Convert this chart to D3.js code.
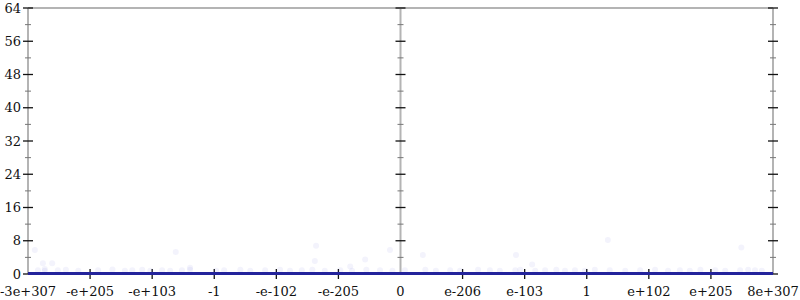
<!DOCTYPE html>
<html><head><meta charset="utf-8">
<script src="https://cdn.jsdelivr.net/npm/d3@7"></script>
<style>body{margin:0;background:#fff}svg{display:block}</style>
</head><body>
<script>
// x tick labels along the transformed (sign-log) float axis, evenly spaced
const xTickLabels = ["-3e+307","-e+205","-e+103","-1","-e-102","-e-205","0","e-206","e-103","1","e+102","e+205","8e+307"];
const yTicks = [0,8,16,24,32,40,48,56,64];
const yMinor = [4,12,20,28,36,44,52,60];
// scattered faint sample points: position in tick units, count
const dotX = [0.11,0.24,0.39,0.27,2.38,2.61,4.64,4.62,5.43,5.83,5.19,6.36,7.86,8.12,9.34,11.49];
const dotY = [5.8,2.6,2.6,1.2,5.3,1.5,6.8,3.1,3.5,5.8,1.8,4.6,4.6,2.3,8.2,6.4];
const baseX = [0.16,0.27,0.48,0.61,0.81,1.13,1.36,1.56,1.68,1.84,1.97,2.16,2.29,2.48,2.61,3.03,3.16,3.42,3.58,3.82,4.06,4.22,4.41,4.58,4.78,5.03,5.22,5.45,5.67,5.87,6.07,6.40,6.57,6.80,6.96,7.25,7.44,7.60,7.85,7.93,8.17,8.33,8.51,8.65,8.81,8.97,9.13,9.37,9.62,9.86,10.10,10.31,10.50,10.66,10.83,11.07,11.23,11.47,11.60,11.71,11.82];
const baseY = [0.9,0.8,0.9,1.0,0.8,0.9,1.1,0.8,0.9,1.0,0.8,0.9,0.8,0.9,1.0,0.8,0.9,1.0,0.8,0.9,1.0,0.8,0.9,1.0,0.8,0.9,0.8,1.0,0.9,0.8,0.9,1.0,0.8,0.9,0.8,1.0,0.9,0.8,0.9,1.0,0.8,0.9,1.0,0.8,0.9,0.8,1.0,0.9,0.8,0.9,1.0,0.8,0.9,0.8,1.0,0.9,0.8,0.9,1.0,0.9,0.8];
// histogram line counts (nearly zero everywhere)
const lineX = [0,1,2,3,4,5,6,7,8,9,10,11,12];
const lineY = [0.1,0.1,0.1,0.1,0.1,0.1,0.1,0.1,0.1,0.1,0.1,0.1,0.1];

const W=800,H=300, L=28, R=773, T=8, B=274;
const svg=d3.select("body").append("svg").attr("width",W).attr("height",H);
const x=d3.scaleLinear().domain([0,12]).range([L,R]);
const y=d3.scaleLinear().domain([0,64]).range([B,T]);
const font='"DejaVu Serif", serif';

const g=svg.append("g");
g.append("line").attr("x1",L).attr("x2",R).attr("y1",T).attr("y2",T).attr("stroke","#b4b4b4").attr("stroke-width",2);
[0,6,12].forEach(t=>{
  g.append("line").attr("x1",x(t)).attr("x2",x(t)).attr("y1",T).attr("y2",B).attr("stroke","#b4b4b4").attr("stroke-width",2);
  yMinor.forEach(v=>g.append("line").attr("x1",x(t)-3).attr("x2",x(t)+3).attr("y1",y(v)).attr("y2",y(v)).attr("stroke","#777").attr("stroke-width",1));
  yTicks.forEach(v=>g.append("line").attr("x1",x(t)-5).attr("x2",x(t)+5).attr("y1",y(v)).attr("y2",y(v)).attr("stroke","#111").attr("stroke-width",1.3));
});
yTicks.forEach(v=>g.append("text").attr("x",L-7).attr("y",y(v)).attr("dy","0.35em").attr("text-anchor","end")
  .attr("font-family",font).attr("font-size",13).attr("fill","#111").text(v));

const pts=dotX.map((d,i)=>[d,dotY[i]]).concat(baseX.map((d,i)=>[d,baseY[i]]));
svg.append("g").selectAll("circle").data(pts).join("circle")
  .attr("cx",d=>x(d[0])).attr("cy",d=>y(d[1])).attr("r",3)
  .attr("fill","#3a3ad0").attr("fill-opacity",0.06);

svg.append("path").datum(lineX.map((d,i)=>[d,lineY[i]]))
  .attr("d",d3.line().x(d=>x(d[0])).y(d=>y(d[1])))
  .attr("fill","none").attr("stroke","#23239b").attr("stroke-width",3);

xTickLabels.forEach((lab,i)=>{
  const cx=x(i);
  if(i!==0 && i!==12 && i!==6)
    g.append("line").attr("x1",cx).attr("x2",cx).attr("y1",B-5).attr("y2",B+5).attr("stroke","#111").attr("stroke-width",1.3);
  svg.append("text").attr("x",cx).attr("y",B+22).attr("text-anchor","middle")
    .attr("font-family",font).attr("font-size",13).attr("fill","#111").text(lab);
});
</script>
</body></html>
